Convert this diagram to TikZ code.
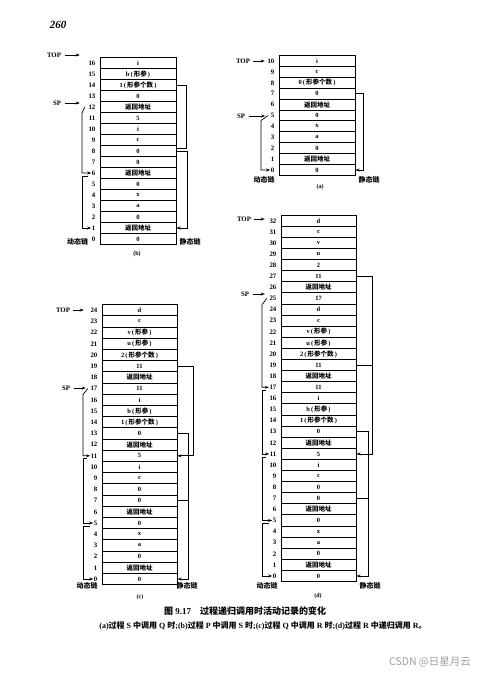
\documentclass[tikz,border=0pt]{standalone}
\usepackage{fontspec}
\setmainfont{Liberation Serif}
\newfontfamily\cjk{Noto Sans CJK SC}
\usetikzlibrary{arrows.meta}
\newcommand\fhdz{{\cjk 返回地址}}
\newcommand\xcgs[1]{#1\,(\,{\cjk 形参个数}\,)}
\newcommand\xcs[1]{#1\,(\,{\cjk 形参}\,)}
\newcommand\drawstack[6]{%
  \foreach \t [count=\i from 0] in {#6} {
    \node[cell, minimum width=#5pt, minimum height=#4pt] (#1\i) at (#2, #3-\i*#4) {\t};
    \node[idx] (#1l\i) at (#2-#5/2-4, #3-\i*#4) {\i};
  }}
\begin{document}
\begin{tikzpicture}[x=1pt,y=-1pt,
  arr/.style={-{Stealth[length=4pt,width=3pt]}, line width=0.7pt},
  cell/.style={draw, line width=1pt, inner sep=0pt, font=\bfseries\fontsize{6.5}{7}\selectfont},
  idx/.style={anchor=east, inner sep=0.5pt, font=\bfseries\fontsize{6.8}{7}\selectfont},
  ptr/.style={inner sep=0.5pt, font=\bfseries\fontsize{6.8}{7}\selectfont},
  chainlab/.style={inner sep=0pt, font=\cjk\bfseries\fontsize{7}{8}\selectfont},
  sublab/.style={inner sep=0pt, font=\bfseries\fontsize{6}{7}\selectfont},
  conn/.style={line width=0.7pt}
]
\fill[white] (0,0) rectangle (500,686);
\useasboundingbox (0,0) rectangle (500,686);

\node[font=\bfseries\itshape\fontsize{11}{12}\selectfont] (pg) at (58,25) {260};

% stacks
\drawstack{b}{138}{239}{11}{76}{0,\fhdz,0,a,x,0,\fhdz,0,0,c,i,5,\fhdz,0,\xcgs{1},\xcs{b},i}
\drawstack{a}{317}{170}{10.9}{76}{0,\fhdz,0,a,x,0,\fhdz,0,\xcgs{0},c,i}
\drawstack{c}{139.5}{579}{11.2}{75}{0,\fhdz,0,a,x,0,\fhdz,0,0,c,i,5,\fhdz,0,\xcgs{1},\xcs{b},i,11,\fhdz,11,\xcgs{2},\xcs{u},\xcs{v},c,d}
\drawstack{d}{318.5}{576}{11.1}{75}{0,\fhdz,0,a,x,0,\fhdz,0,0,c,i,5,\fhdz,0,\xcgs{1},\xcs{b},i,11,\fhdz,11,\xcgs{2},\xcs{u},\xcs{v},c,d,17,\fhdz,11,2,u,v,c,d}

% TOP / SP pointers
\node[ptr] (btop) at (54,55) {TOP};
\draw[arr, shorten <=3pt, shorten >=8pt] (btop.east) -- (btop.east -| bl16.west);
\node[ptr] (bsp) at (57,103) {SP};
\draw[arr, shorten <=3pt, shorten >=8pt] (bsp.east) -- (bsp.east -| bl12.west);

\node[ptr] (atop) at (243,61) {TOP};
\draw[arr, shorten <=2pt, shorten >=2pt] (atop.east) -- (atop.east -| al10.west);
\node[ptr] (asp) at (241,116) {SP};
\draw[arr, shorten <=3pt, shorten >=5pt] (asp.east) -- (asp.east -| al5.west);

\node[ptr] (ctop) at (63,310) {TOP};
\draw[arr, shorten <=2pt, shorten >=6pt] (ctop.east) -- (ctop.east -| cl24.west);
\node[ptr] (csp) at (66,388) {SP};
\draw[arr, shorten <=3pt, shorten >=4pt] (csp.east) -- (csp.east -| cl17.west);

\node[ptr] (dtop) at (244,219) {TOP};
\draw[arr, shorten <=2pt, shorten >=4pt] (dtop.east) -- (dtop.east -| dl32.west);
\node[ptr] (dsp) at (245,294) {SP};
\draw[arr, shorten <=3pt, shorten >=4pt] (dsp.east) -- (dsp.east -| dl25.west);

% dynamic chains
\coordinate (bdx) at (82,0);
\draw[arr] ([xshift=-3pt]bl12.west) -- ([yshift=-6pt]bl12.west -| bdx) -- (bl6.west -| bdx) -- (bl6.west);
\draw[arr] ([xshift=-3pt,yshift=-3pt]bl6.west) -- ([yshift=-3pt]bl6.west -| bdx) -- (bl1.west -| bdx) -- (bl1.west);

\coordinate (adx) at (261,0);
\draw[arr] ([xshift=-2pt]al5.west) -- ([yshift=-5pt]al5.west -| adx) -- (al0.west -| adx) -- (al0.west);

\coordinate (cdx) at (83,0);
\draw[arr] ([xshift=-2pt]cl17.west) -- ([yshift=-6pt]cl17.west -| cdx) -- (cl11.west -| cdx) -- (cl11.west);
\draw[arr] ([xshift=-3pt,yshift=-3pt]cl11.west) -- ([yshift=-3pt]cl11.west -| cdx) -- (cl5.west -| cdx) -- (cl5.west);
\draw[arr] ([xshift=-3pt,yshift=-3pt]cl5.west) -- ([yshift=-3pt]cl5.west -| cdx) -- (cl0.west -| cdx) -- (cl0.west);

\coordinate (ddx) at (262,0);
\draw[arr] ([xshift=-2pt]dl25.west) -- ([yshift=-6pt]dl25.west -| ddx) -- (dl17.west -| ddx) -- (dl17.west);
\draw[arr] ([xshift=-3pt,yshift=-3pt]dl17.west) -- ([yshift=-3pt]dl17.west -| ddx) -- (dl11.west -| ddx) -- (dl11.west);
\draw[arr] ([xshift=-3pt,yshift=-3pt]dl11.west) -- ([yshift=-3pt]dl11.west -| ddx) -- (dl5.west -| ddx) -- (dl5.west);
\draw[arr] ([xshift=-3pt,yshift=-3pt]dl5.west) -- ([yshift=-3pt]dl5.west -| ddx) -- (dl0.west -| ddx) -- (dl0.west);

% static chains
\coordinate (bso) at (186,0);
\coordinate (bsi) at (187,0);
\draw[conn] (b14.east) -- (b14.east -| bso) -- ([yshift=3pt]b8.east -| bso) -- ([yshift=3pt]b8.east);
\draw[arr] (b8.east) -- (b8.east -| bsi) -- (b1.east -| bsi) -- (b1.east);

\coordinate (aso) at (363,0);
\draw[arr] (a7.east) -- (a7.east -| aso) -- (a0.east -| aso) -- (a0.east);

\coordinate (cso) at (193,0);
\coordinate (csi) at (188,0);
\draw[arr] (c19.east) -- (c19.east -| cso) -- (c11.east -| cso) -- (c11.east);
\draw[arr] (c13.east) -- (c13.east -| csi) -- (c0.east -| csi) -- (c0.east);
\draw[conn] (c7.east) -- (c7.east -| csi);

\coordinate (dso) at (372,0);
\coordinate (dsi) at (368,0);
\draw[arr] (d27.east) -- (d27.east -| dso) -- (d11.east -| dso) -- (d11.east);
\draw[conn] (d19.east) -- (d19.east -| dso);
\draw[arr] (d13.east) -- (d13.east -| dsi) -- (d0.east -| dsi) -- (d0.east);
\draw[conn] (d7.east) -- (d7.east -| dsi);

% labels under stacks
\node[chainlab] (bdl) at (77.5,242) {动态链};
\node[chainlab] (bsl) at (190,242) {静态链};
\node[sublab] (bcap) at (137,254) {(b)};
\node[chainlab] (adl) at (264,180) {动态链};
\node[chainlab] (asl) at (369,180) {静态链};
\node[sublab] (acap) at (320,187) {(a)};
\node[chainlab] (cdl) at (87,586) {动态链};
\node[chainlab] (csl) at (187,586) {静态链};
\node[sublab] (ccap) at (140,597) {(c)};
\node[chainlab] (ddl) at (267,586) {动态链};
\node[chainlab] (dsl) at (370,586) {静态链};
\node[sublab] (dcap) at (318,596) {(d)};

% caption
\node[inner sep=0pt, font=\bfseries\fontsize{9}{10}\selectfont] (cap1) at (245,611) {{\cjk 图} 9.17\quad{\cjk 过程递归调用时活动记录的变化}};
\node[inner sep=0pt, font=\bfseries\fontsize{8}{9}\selectfont] (cap2) at (263,626) {(a){\cjk 过程} S {\cjk 中调用} Q {\cjk 时};(b){\cjk 过程} P {\cjk 中调用} S {\cjk 时};(c){\cjk 过程} Q {\cjk 中调用} R {\cjk 时};(d){\cjk 过程} R {\cjk 中递归调用} R{\cjk 。}};

\node[inner sep=0pt, text=gray!75, font=\cjk\fontsize{10.5}{12}\selectfont] (wm) at (430,662) {CSDN @日星月云};
\end{tikzpicture}
\end{document}
